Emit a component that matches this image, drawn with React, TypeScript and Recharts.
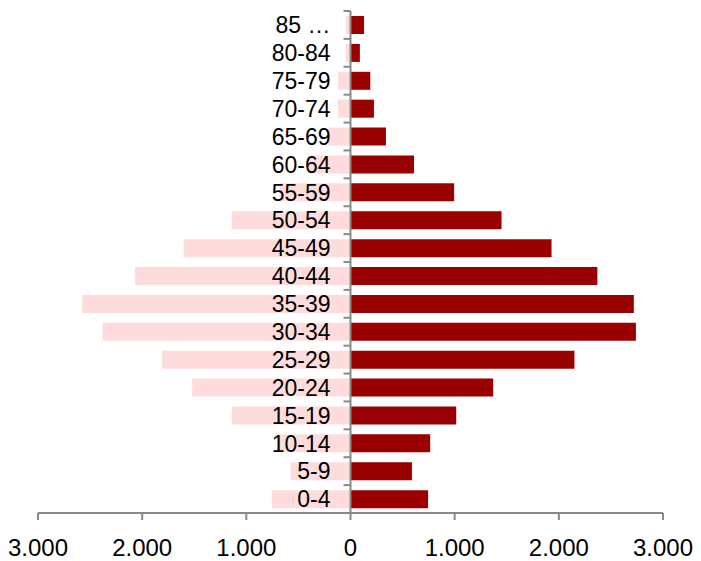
import { BarChart, Bar, XAxis, YAxis, ReferenceLine } from 'recharts'

const ageGroups = [
  '0-4', '5-9', '10-14', '15-19', '20-24', '25-29', '30-34', '35-39', '40-44',
  '45-49', '50-54', '55-59', '60-64', '65-69', '70-74', '75-79', '80-84', '85 …',
]
// left side (light) and right side (dark)
const leftValues = [755, 575, 700, 1140, 1520, 1810, 2380, 2575, 2070, 1600, 1140, 680, 410, 215, 120, 120, 45, 45]
const rightValues = [745, 590, 765, 1015, 1370, 2150, 2740, 2720, 2370, 1930, 1450, 995, 610, 340, 225, 190, 90, 130]
const xTicks = [-3000, -2000, -1000, 0, 1000, 2000, 3000]

const W = 685
const H = 553
const Y_AXIS_W = 1
const M = { top: 3, right: 30, bottom: 8, left: 29 }
const X_AXIS_H = 40
const PLOT_LEFT = M.left + Y_AXIS_W
const ZERO_X = PLOT_LEFT + (W - PLOT_LEFT - M.right) / 2
const BAND = (H - M.top - M.bottom - X_AXIS_H) / ageGroups.length
const GREY = '#898989'

const data = ageGroups.map((age, i) => ({
  age,
  left: -leftValues[i],
  right: rightValues[i],
}))

const fmt = (v: number) => String(Math.abs(v)).replace(/\B(?=(\d{3})+(?!\d))/g, '.')

function AgeTick({ y, payload }: any) {
  const top = y - BAND / 2
  return (
    <g>
      <line x1={ZERO_X - 7} x2={ZERO_X} y1={top} y2={top} stroke={GREY} strokeWidth={2} />
      <text x={ZERO_X - 20} y={y} dy="0.36em" textAnchor="end" fontSize={23} fill="#000">
        {payload.value}
      </text>
    </g>
  )
}

export default function App() {
  return (
    <div style={{ width: W, height: H, fontFamily: '"Liberation Sans", Arial, sans-serif' }}>
      <BarChart
        width={W}
        height={H}
        data={data}
        layout="vertical"
        margin={M}
        stackOffset="sign"
        barCategoryGap="18%"
      >
        <XAxis
          type="number"
          domain={[-3000, 3000]}
          ticks={xTicks}
          tickFormatter={fmt}
          height={X_AXIS_H}
          axisLine={{ stroke: GREY, strokeWidth: 2 }}
          tickLine={{ stroke: GREY, strokeWidth: 2 }}
          tickSize={7}
          tickMargin={19}
          tick={{ fontSize: 24, fill: '#000' }}
          interval={0}
        />
        <Bar dataKey="left" stackId="a" fill="#FFDCDC" isAnimationActive={false} />
        <Bar dataKey="right" stackId="a" fill="#990000" isAnimationActive={false} />
        <ReferenceLine x={0} stroke={GREY} strokeWidth={2} />
        <YAxis
          type="category"
          dataKey="age"
          reversed
          width={Y_AXIS_W}
          axisLine={false}
          tickLine={false}
          tick={AgeTick}
          interval={0}
        />
      </BarChart>
    </div>
  )
}
